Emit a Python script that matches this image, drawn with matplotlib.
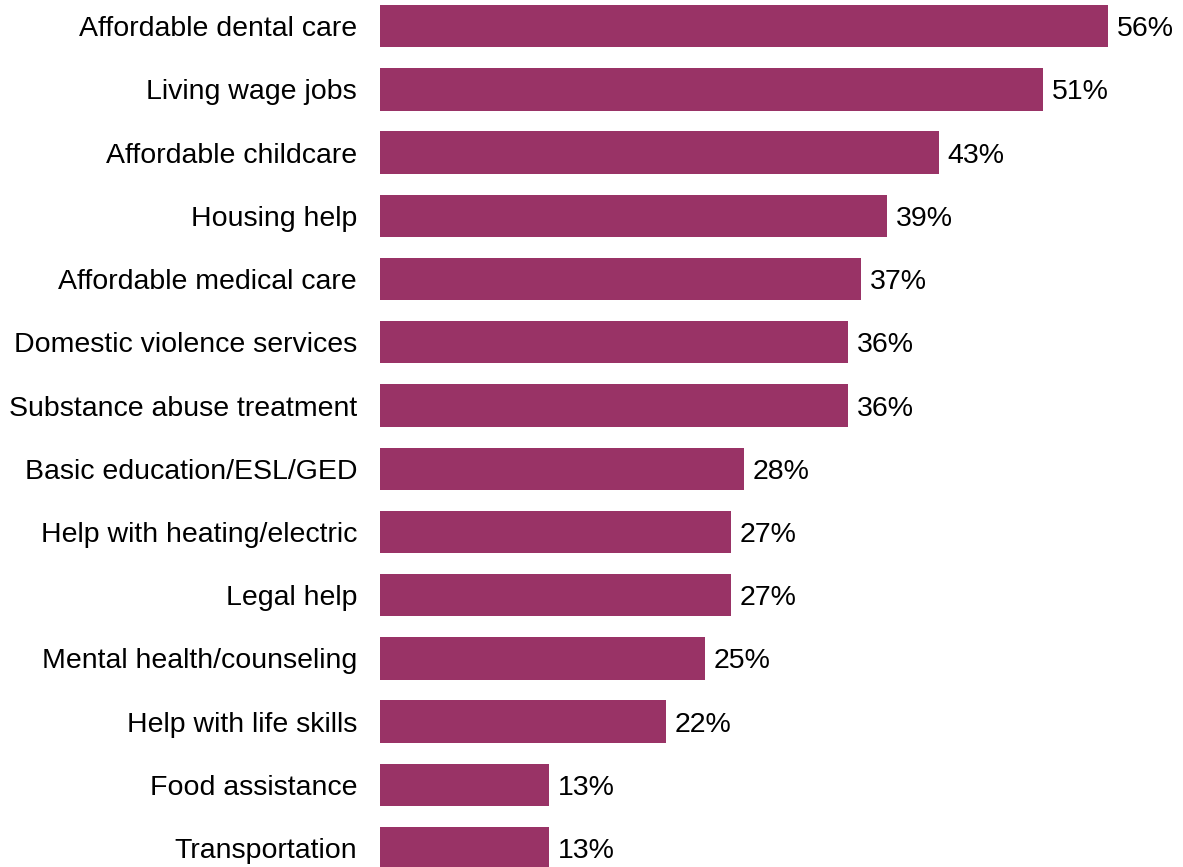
import matplotlib
matplotlib.use("Agg")
import matplotlib.pyplot as plt

services = ["Affordable dental care", "Living wage jobs", "Affordable childcare",
            "Housing help", "Affordable medical care", "Domestic violence services",
            "Substance abuse treatment", "Basic education/ESL/GED",
            "Help with heating/electric", "Legal help", "Mental health/counseling",
            "Help with life skills", "Food assistance", "Transportation"]
pct = [56, 51, 43, 39, 37, 36, 36, 28, 27, 27, 25, 22, 13, 13]

plt.rcParams['font.family'] = ['Liberation Sans', 'DejaVu Sans']

fig = plt.figure(figsize=(11.83, 8.67), dpi=100)
ax = fig.add_axes([380 / 1183, 0, 803 / 1183, 1])

pos = list(range(len(services)))
bars = ax.barh(pos, pct, height=0.67, color="#993366")
for b, v in zip(bars, pct):
    ax.text(b.get_width() + 0.65, b.get_y() + b.get_height() / 2, f"{v}%",
            va="center_baseline", ha="left", fontsize=20.5, color="black")

ax.set_yticks(pos)
ax.set_yticklabels(services, fontsize=20.5)
ax.tick_params(axis="y", length=0, pad=16.5)
ax.set_xticks([])
ax.set_xlim(0, 803 / 13)
ax.set_ylim(13.30, -0.415)
for s in ax.spines.values():
    s.set_visible(False)

fig.savefig("out.png", dpi=100)
